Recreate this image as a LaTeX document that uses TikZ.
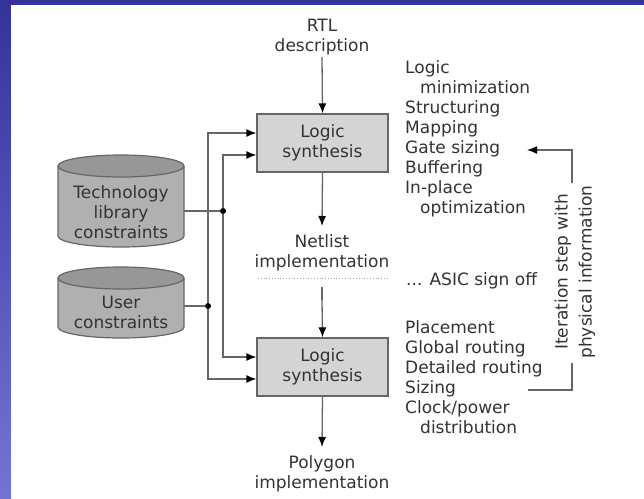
\documentclass[tikz,border=0pt]{standalone}
\usepackage{fontspec}
\setmainfont{DejaVu Sans}
\usetikzlibrary{arrows.meta}
\definecolor{bgblue}{HTML}{333399}
\definecolor{bglight}{HTML}{7474D6}
\definecolor{txtgray}{HTML}{333333}
\definecolor{linegray}{HTML}{666666}
\definecolor{boxfill}{HTML}{D4D4D4}
\definecolor{cylfill}{HTML}{B0B0B0}
\definecolor{cyltopfill}{HTML}{979797}
\begin{document}
\begin{tikzpicture}[x=1pt,y=-1pt,
  every node/.style={text=txtgray, font=\fontsize{17}{20}\selectfont},
  procbox/.style={draw=linegray, line width=1.3pt, fill=boxfill, minimum width=131pt, minimum height=58pt, align=center, inner sep=0pt},
  label/.style={align=center, inner sep=0pt},
  listtxt/.style={align=left, inner sep=0pt, anchor=north west},
  conn/.style={draw=linegray, line width=1.3pt},
  arr/.style={conn, -{Latex[length=10pt,width=8pt,color=black]}},
  cylbody/.style={fill=cylfill, draw=linegray, line width=1.2pt},
  cyltop/.style={fill=cyltopfill, draw=linegray, line width=1.2pt},
  jdot/.style={circle, fill=black, inner sep=0pt, minimum size=6pt}
]
\useasboundingbox (0,0) rectangle (644,498);
% background frame
\fill[bgblue] (0,0) rectangle (644,5);
\shade[top color=bgblue, bottom color=bglight] (0,0) rectangle (11,498);
\fill[white] (11,5) rectangle (644,498);

% cylinders
\path[cylbody] (58,166) -- (58,236) arc[start angle=180, end angle=0, x radius=63, y radius=11] -- (184,166);
\path[cyltop] (121,166) ellipse[x radius=63, y radius=11];
\node[label] (tech) at (121,212) {Technology\\library\\constraints};
\coordinate (techE) at (184,211);

\path[cylbody] (58,278) -- (58,327) arc[start angle=180, end angle=0, x radius=63, y radius=11] -- (184,278);
\path[cyltop] (121,278) ellipse[x radius=63, y radius=11];
\node[label] (user) at (121,312) {User\\constraints};
\coordinate (userE) at (184,306);

% main flow
\node[label] (rtl) at (322,37) {RTL\\description};
\node[procbox] (ls1) at (322.5,143) {Logic\\synthesis};
\node[label] (net) at (322,253) {Netlist\\implementation};
\node[procbox] (ls2) at (322.5,367) {Logic\\synthesis};
\node[label] (poly) at (322,474) {Polygon\\implementation};

\draw[arr] (322,57) -- (ls1.north);
\draw[arr] (ls1.south) -- (322,226);
\draw[conn] (322,287) -- (322,300);
\draw[arr] (322,300) -- (ls2.north);
\draw[arr] (ls2.south) -- (322,447);
\draw[linegray!60, dotted, line width=0.8pt] (258,278) -- (387,278);

% junctions and side inputs
\node[jdot] (j1) at (223,211) {};
\node[jdot] (j2) at (208,306) {};
\draw[conn] (techE) -- (j1);
\draw[conn] (userE) -- (j2);
\draw[arr] (j1) -- (223,155) -- (ls1.west |- 0,155);
\draw[arr] (j1) -- (223,357) -- (ls2.west |- 0,357);
\draw[arr] (j2) -- (208,133) -- (ls1.west |- 0,133);
\draw[arr] (j2) -- (208,379) -- (ls2.west |- 0,379);

% lists
\node[listtxt] (list1) at (405,60) {Logic\\\hspace*{15pt}minimization\\Structuring\\Mapping\\Gate sizing\\Buffering\\In-place\\\hspace*{15pt}optimization};
\node[listtxt, anchor=base west] (asic) at (406,285) {... ASIC sign off};
\node[listtxt] (list2) at (405,320) {Placement\\Global routing\\Detailed routing\\Sizing\\Clock/power\\\hspace*{15pt}distribution};

% iteration feedback
\node[label, rotate=90, font=\fontsize{17}{24}\selectfont] (iter) at (575,272) {Iteration step with\\physical information};
\coordinate (fbTop) at (572,150);
\coordinate (fbTopEnd) at (572,183);
\coordinate (fbTarget) at (527,150);
\coordinate (fbBot) at (572,390);
\coordinate (fbBotStart) at (572,363);
\coordinate (fbSrc) at (528,390);
\draw[arr] (fbTopEnd) -- (fbTop) -- (fbTarget);
\draw[conn] (fbSrc) -- (fbBot) -- (fbBotStart);
\end{tikzpicture}
\end{document}
